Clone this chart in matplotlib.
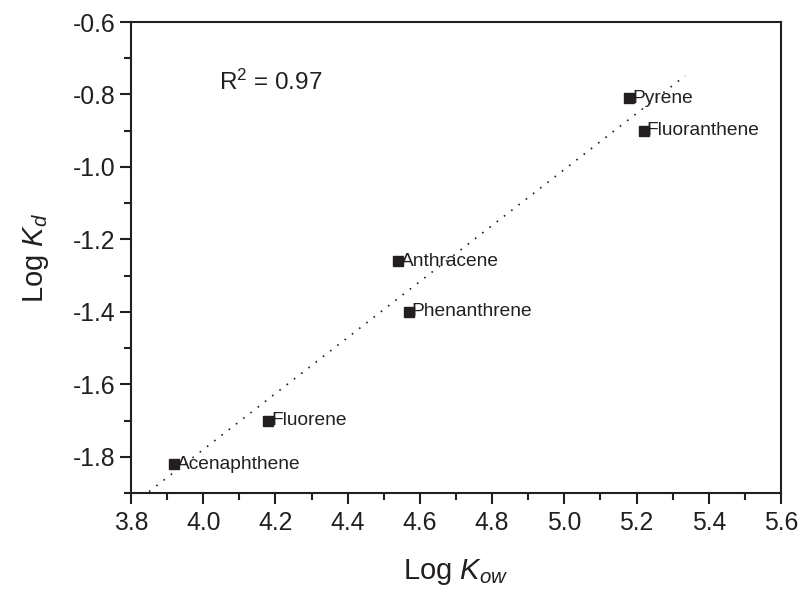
import numpy as np
import matplotlib
matplotlib.use("Agg")
from matplotlib import pyplot as plt
from matplotlib.ticker import MultipleLocator

plt.rcParams['font.family'] = ['Liberation Sans', 'DejaVu Sans']
plt.rcParams['mathtext.fontset'] = 'custom'
plt.rcParams['mathtext.rm'] = 'Liberation Sans'
plt.rcParams['mathtext.it'] = 'Liberation Sans:italic'

compounds = ['Acenaphthene', 'Fluorene', 'Anthracene', 'Phenanthrene', 'Pyrene', 'Fluoranthene']
log_kow = [3.92, 4.18, 4.54, 4.57, 5.18, 5.22]
log_kd = [-1.82, -1.70, -1.26, -1.40, -0.81, -0.90]
fit_range = [3.85, 5.335]

ink = '#231f20'

fig = plt.figure(figsize=(8.02, 5.97), dpi=100)
ax = fig.add_axes([0.1633, 0.1742, 0.8105, 0.7889])

slope, icept = np.polyfit(log_kow, log_kd, 1)
xf = np.linspace(fit_range[0], fit_range[1], 50)
ax.plot(xf, slope * xf + icept, linestyle=(0, (1, 4.5)), color=ink, lw=1.2)

ax.plot(log_kow, log_kd, 's', color=ink, markersize=7, zorder=3)
for name, x, y in zip(compounds, log_kow, log_kd):
    ax.annotate(name, (x, y), xytext=(2, 0), textcoords='offset points',
                va='center', ha='left', fontsize=13.8, color=ink)

ax.text(0.135, 0.873, 'R$^2$ = 0.97', transform=ax.transAxes, fontsize=17.5,
        va='center', ha='left', color=ink)

ax.set_xlim(3.8, 5.6)
ax.set_ylim(-1.9, -0.6)
ax.xaxis.set_major_locator(MultipleLocator(0.2))
ax.xaxis.set_minor_locator(MultipleLocator(0.1))
ax.yaxis.set_major_locator(MultipleLocator(0.2))
ax.yaxis.set_minor_locator(MultipleLocator(0.1))
ax.set_xticklabels([f'{v:.1f}' for v in ax.get_xticks()])
ax.set_yticklabels([f'{v:.1f}'.replace('\u2212', '-') for v in ax.get_yticks()])

ax.tick_params(which='major', direction='out', length=8, width=1.5, colors=ink,
               labelsize=17.8, pad=5)
ax.tick_params(which='minor', direction='out', length=5, width=1.5, colors=ink)
ax.tick_params(axis='y', which='major', pad=3)
for s in ax.spines.values():
    s.set_linewidth(1.5)
    s.set_color(ink)

ax.set_xlabel('Log $\\it{K}_{\\mathregular{\\it{ow}}}$', fontsize=21, color=ink, labelpad=16)
ax.set_ylabel('Log $\\it{K}_{d}$', fontsize=21, color=ink, labelpad=16)

fig.savefig('out.png', dpi=100)
